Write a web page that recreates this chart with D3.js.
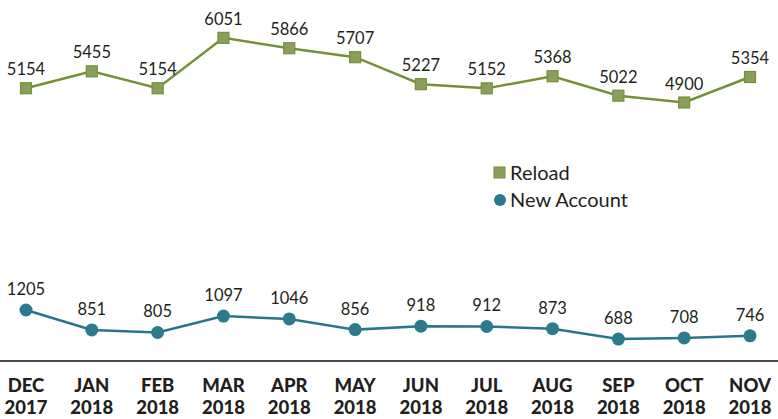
<!DOCTYPE html>
<html>
<head>
<meta charset="utf-8">
<script src="https://cdn.jsdelivr.net/npm/d3@7"></script>
<style>
  body { margin: 0; background: #fff; }
  svg { display: block; font-family: "Lato", "Open Sans", sans-serif; }
</style>
</head>
<body>
<div id="chart"></div>
<script>
// monthly counts, Dec 2017 - Nov 2018
var months = ["DEC", "JAN", "FEB", "MAR", "APR", "MAY", "JUN", "JUL", "AUG", "SEP", "OCT", "NOV"];
var years = ["2017", "2018", "2018", "2018", "2018", "2018", "2018", "2018", "2018", "2018", "2018", "2018"];
var reload = [5154, 5455, 5154, 6051, 5866, 5707, 5227, 5152, 5368, 5022, 4900, 5354];
var newAccount = [1205, 851, 805, 1097, 1046, 856, 918, 912, 873, 688, 708, 746];

var w = 778, h = 419;

var svg = d3.select("#chart").append("svg")
    .attr("width", w)
    .attr("height", h);

var x = d3.scalePoint()
    .domain(d3.range(months.length))
    .range([26, 750]);

var y = d3.scaleLinear()
    .domain([600, 6200])
    .range([344, 29.5]);

var green = "#759039", greenFill = "#8a9f5b";
var teal = "#2a7689", tealFill = "#2c7a8d";

// axis line
svg.append("line")
    .attr("x1", 0).attr("x2", w)
    .attr("y1", 361).attr("y2", 361)
    .style("stroke", "#4a4a4a")
    .style("stroke-width", 2);

var line = d3.line()
    .x(function(d, i) { return x(i); })
    .y(function(d) { return y(d); });

// Reload series
svg.append("path")
    .datum(reload)
    .attr("d", line)
    .style("fill", "none")
    .style("stroke", green)
    .style("stroke-width", 2.5);

svg.selectAll("rect.reload").data(reload).enter()
  .append("rect")
    .attr("class", "reload")
    .attr("x", function(d, i) { return x(i) - 5.5; })
    .attr("y", function(d) { return y(d) - 5.5; })
    .attr("width", 11)
    .attr("height", 11)
    .style("fill", greenFill)
    .style("stroke", green)
    .style("stroke-width", 1.2);

svg.selectAll("text.reload").data(reload).enter()
  .append("text")
    .attr("class", "reload")
    .attr("x", function(d, i) { return x(i); })
    .attr("y", function(d) { return y(d) - 13; })
    .attr("text-anchor", "middle")
    .style("font-size", "16.5px")
    .style("fill", "#231f20")
    .text(function(d) { return d; });

// New Account series
svg.append("path")
    .datum(newAccount)
    .attr("d", line)
    .style("fill", "none")
    .style("stroke", teal)
    .style("stroke-width", 2.5);

svg.selectAll("circle.acct").data(newAccount).enter()
  .append("circle")
    .attr("class", "acct")
    .attr("cx", function(d, i) { return x(i); })
    .attr("cy", function(d) { return y(d); })
    .attr("r", 6.5)
    .style("fill", tealFill);

svg.selectAll("text.acct").data(newAccount).enter()
  .append("text")
    .attr("class", "acct")
    .attr("x", function(d, i) { return x(i); })
    .attr("y", function(d) { return y(d) - 15; })
    .attr("text-anchor", "middle")
    .style("font-size", "16.5px")
    .style("fill", "#231f20")
    .text(function(d) { return d; });

// month labels
var lab = svg.selectAll("text.month").data(months).enter()
  .append("text")
    .attr("class", "month")
    .attr("x", function(d, i) { return x(i); })
    .attr("text-anchor", "middle")
    .style("font-size", "18.5px")
    .style("font-weight", "900")
    .style("fill", "#231f20");
lab.append("tspan")
    .attr("x", function(d, i) { return x(i); })
    .attr("y", 392)
    .text(function(d) { return d; });
lab.append("tspan")
    .attr("x", function(d, i) { return x(i); })
    .attr("y", 414)
    .text(function(d, i) { return years[i]; });

// legend
var lg = svg.append("g").attr("transform", "translate(494,0)");
lg.append("rect")
    .attr("x", 0).attr("y", 167)
    .attr("width", 11).attr("height", 11)
    .style("fill", greenFill)
    .style("stroke", green);
lg.append("text")
    .attr("x", 16).attr("y", 180)
    .style("font-size", "20px")
    .style("fill", "#231f20")
    .text("Reload");
lg.append("circle")
    .attr("cx", 6).attr("cy", 200)
    .attr("r", 6)
    .style("fill", tealFill);
lg.append("text")
    .attr("x", 16).attr("y", 207)
    .style("font-size", "20px")
    .style("fill", "#231f20")
    .text("New Account");
</script>
</body>
</html>
